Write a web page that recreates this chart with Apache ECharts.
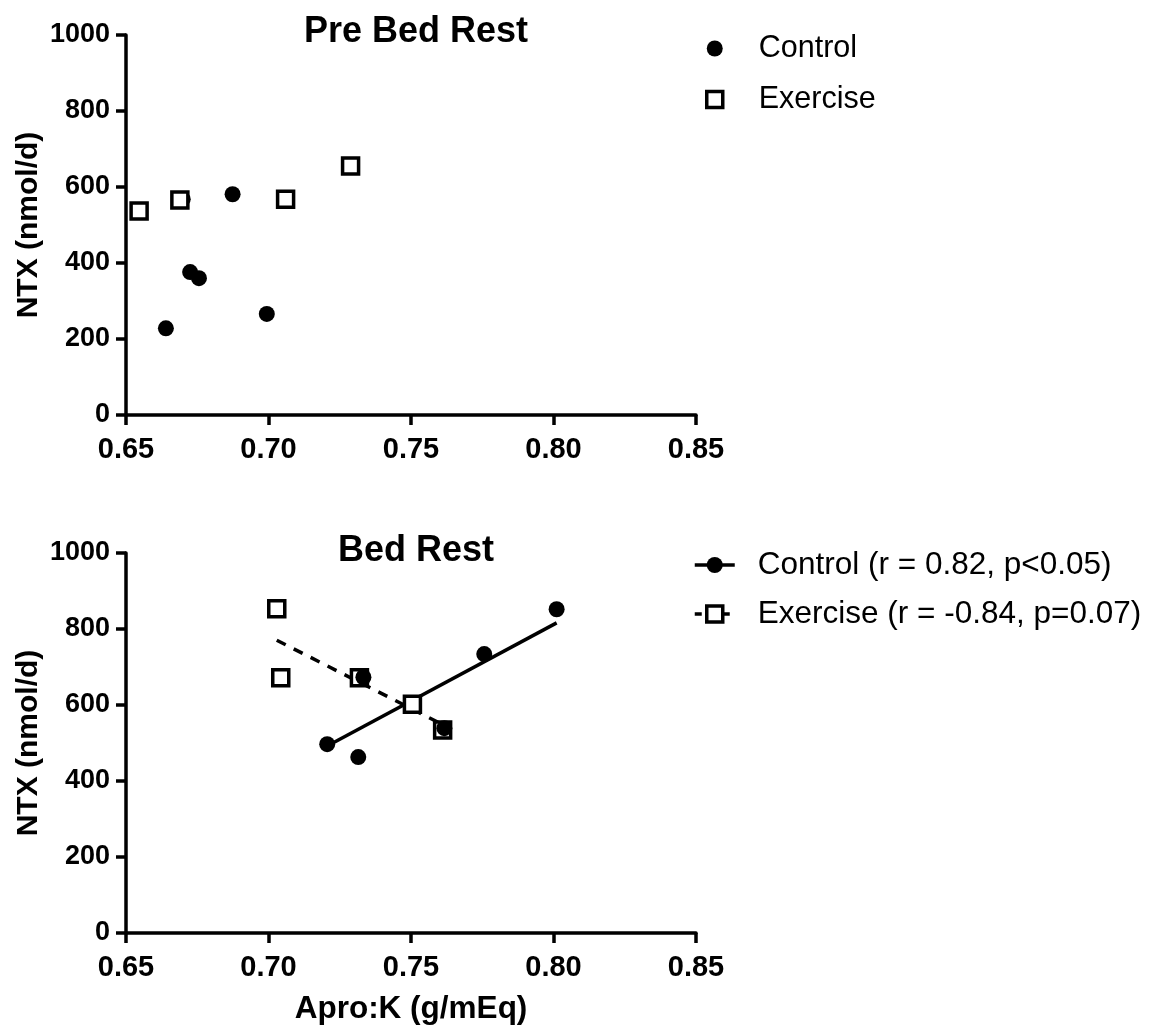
<!DOCTYPE html>
<html>
<head>
<meta charset="utf-8">
<title>NTX vs Apro:K</title>
<script src="https://cdn.jsdelivr.net/npm/echarts@6/dist/echarts.min.js"></script>
<style>
  html, body { margin: 0; padding: 0; background: #fff; }
  #chart { width: 1149px; height: 1030px; }
</style>
</head>
<body>
<div id="chart"></div>
<script>
// Pre Bed Rest
const preControlX = [0.6699, 0.6874, 0.6725, 0.6756, 0.6640, 0.6994]
const preControlY = [568, 581, 376, 360, 228, 266]
const preExerciseX = [0.6546, 0.6689, 0.7060, 0.7288]
const preExerciseY = [537, 566, 568, 655]

// Bed Rest
const bedControlX = [0.7206, 0.7315, 0.7333, 0.7617, 0.7757, 0.8011]
const bedControlY = [497, 463, 673, 539, 734, 852]
const bedExerciseX = [0.7029, 0.7043, 0.7319, 0.7505, 0.7611]
const bedExerciseY = [853, 672, 672, 602, 534]

const xTicks = [0.65, 0.70, 0.75, 0.80, 0.85]
const yTicks = [0, 200, 400, 600, 800, 1000]

const topLegend = ['Control', 'Exercise']
const bottomLegend = ['Control (r = 0.82, p<0.05)', 'Exercise (r = -0.84, p=0.07)']

const FONT = 'Liberation Sans, Arial, sans-serif'

const pairs = (xs, ys) => xs.map((x, i) => [x, ys[i]])

// least-squares fit line between min and max x
function fitLine(xs, ys) {
  const n = xs.length
  const mx = xs.reduce((a, b) => a + b, 0) / n
  const my = ys.reduce((a, b) => a + b, 0) / n
  let sxy = 0, sxx = 0
  for (let i = 0; i < n; i++) {
    sxy += (xs[i] - mx) * (ys[i] - my)
    sxx += (xs[i] - mx) * (xs[i] - mx)
  }
  const b = sxy / sxx
  const x0 = Math.min(...xs), x1 = Math.max(...xs)
  return [[x0, my + b * (x0 - mx)], [x1, my + b * (x1 - mx)]]
}

const axisLine = () => ({ show: true, onZero: false, lineStyle: { color: '#000', width: 3.5 } })
const axisTick = () => ({ show: true, inside: false, length: 10, lineStyle: { color: '#000', width: 3.5 } })

const xAxis = (gridIndex, withName) => ({
  type: 'value',
  gridIndex,
  min: xTicks[0],
  max: xTicks[xTicks.length - 1],
  interval: 0.05,
  name: withName ? 'Apro:K (g/mEq)' : '',
  nameLocation: 'middle',
  nameGap: 60,
  nameTextStyle: { color: '#000', fontFamily: FONT, fontWeight: 'bold', fontSize: 31.5 },
  axisLine: axisLine(),
  axisTick: axisTick(),
  splitLine: { show: false },
  axisLabel: { margin: 20, color: '#000', fontFamily: FONT, fontWeight: 'bold', fontSize: 29,
    formatter: v => v.toFixed(2) }
})

const yAxis = gridIndex => ({
  type: 'value',
  gridIndex,
  min: yTicks[0],
  max: yTicks[yTicks.length - 1],
  interval: 200,
  name: 'NTX (nmol/d)',
  nameLocation: 'middle',
  nameGap: 82,
  nameTextStyle: { color: '#000', fontFamily: FONT, fontWeight: 'bold', fontSize: 30 },
  axisLine: axisLine(),
  axisTick: axisTick(),
  splitLine: { show: false },
  axisLabel: { margin: 16, color: '#000', fontFamily: FONT, fontWeight: 'bold', fontSize: 27,
    formatter: v => String(v) }
})

const dot = { color: '#000', opacity: 1 }
const box = { color: '#fff', borderColor: '#000', borderWidth: 3.5, opacity: 1 }

const option = {
  animation: false,
  backgroundColor: '#fff',
  title: [
    { text: 'Pre Bed Rest', left: 411, top: 9, textAlign: 'center',
      textStyle: { color: '#000', fontFamily: FONT, fontWeight: 'bold', fontSize: 36 } },
    { text: 'Bed Rest', left: 411, top: 528, textAlign: 'center',
      textStyle: { color: '#000', fontFamily: FONT, fontWeight: 'bold', fontSize: 36 } }
  ],
  grid: [
    { left: 126, top: 35, width: 570, height: 380 },
    { left: 126, top: 553, width: 570, height: 380 }
  ],
  xAxis: [xAxis(0, false), xAxis(1, true)],
  yAxis: [yAxis(0), yAxis(1)],
  legend: [
    {
      data: [
        { name: topLegend[0], itemStyle: dot },
        { name: topLegend[1], itemStyle: box }
      ],
      orient: 'vertical',
      left: 700,
      top: 28,
      itemGap: 20,
      itemWidth: 16,
      itemHeight: 16,
      textStyle: { color: '#000', fontFamily: FONT, fontSize: 30.5, padding: [0, 0, 0, 31] }
    },
    {
      data: [
        { name: bottomLegend[0], itemStyle: dot, lineStyle: { color: '#000', width: 3.5, type: 'solid' } },
        { name: bottomLegend[1], itemStyle: box, lineStyle: { color: '#000', width: 3.5, type: [7, 7] } }
      ],
      orient: 'vertical',
      left: 688,
      top: 544,
      itemGap: 17,
      itemWidth: 40,
      itemHeight: 20,
      textStyle: { color: '#000', fontFamily: FONT, fontSize: 31.5, padding: [0, 0, 0, 18] }
    }
  ],
  series: [
    { name: topLegend[0], type: 'scatter', xAxisIndex: 0, yAxisIndex: 0,
      symbol: 'circle', symbolSize: 16, itemStyle: dot, data: pairs(preControlX, preControlY) },
    { name: topLegend[1], type: 'scatter', xAxisIndex: 0, yAxisIndex: 0,
      symbol: 'rect', symbolSize: 16, itemStyle: box, data: pairs(preExerciseX, preExerciseY) },

    // fit lines first so the legend icon draws line + marker
    { name: bottomLegend[0], type: 'line', xAxisIndex: 1, yAxisIndex: 1,
      symbol: 'circle', showSymbol: false, z: 1, itemStyle: dot,
      lineStyle: { color: '#000', width: 3.5, type: 'solid' },
      data: fitLine(bedControlX, bedControlY) },
    { name: bottomLegend[1], type: 'line', xAxisIndex: 1, yAxisIndex: 1,
      symbol: 'rect', showSymbol: false, z: 1, itemStyle: box,
      lineStyle: { color: '#000', width: 3.5, type: [10, 9] },
      data: fitLine(bedExerciseX, bedExerciseY) },
    { name: bottomLegend[0], type: 'scatter', xAxisIndex: 1, yAxisIndex: 1,
      symbol: 'circle', symbolSize: 16, itemStyle: dot, z: 3, data: pairs(bedControlX, bedControlY) },
    { name: bottomLegend[1], type: 'scatter', xAxisIndex: 1, yAxisIndex: 1,
      symbol: 'rect', symbolSize: 16, itemStyle: box, z: 2, data: pairs(bedExerciseX, bedExerciseY) }
  ]
}

const myChart = echarts.init(document.getElementById('chart'), null, { renderer: 'canvas' })
myChart.setOption(option)
</script>
</body>
</html>
